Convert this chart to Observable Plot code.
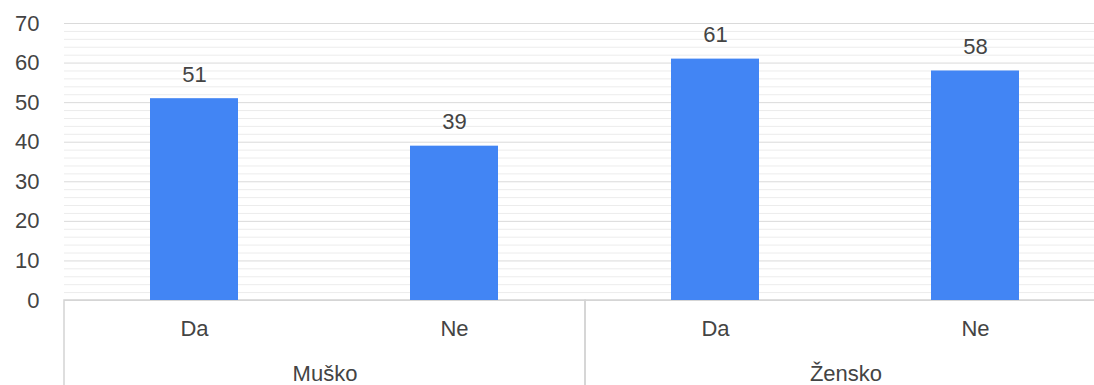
<!DOCTYPE html>
<html>
<head>
<meta charset="utf-8">
<script src="https://cdn.jsdelivr.net/npm/d3@7"></script>
<script src="https://cdn.jsdelivr.net/npm/@observablehq/plot@0.6"></script>
<style>
  html, body { margin: 0; padding: 0; background: #fff; overflow: hidden; }
  #chart { width: 1094px; height: 385px; overflow: hidden; }
  #chart svg { max-width: none !important; }
</style>
</head>
<body>
<div id="chart"></div>
<script>
// Data
const groups = ["Muško", "Muško", "Žensko", "Žensko"];
const answers = ["Da", "Ne", "Da", "Ne"];
const values = [51, 39, 61, 58];
const groupOrder = ["Muško", "Žensko"];
const answerOrder = ["Da", "Ne"];
const yTicks = [0, 10, 20, 30, 40, 50, 60, 70];
const yMinorTicks = [2, 4, 6, 8, 12, 14, 16, 18, 22, 24, 26, 28, 32, 34, 36, 38, 42, 44, 46, 48, 52, 54, 56, 58, 62, 64, 66, 68];

const data = values.map((v, i) => ({ group: groups[i], answer: answers[i], value: v }));
// lower axis box (baseline + group separators), in y units below zero
const axisBox = [{ y1: 0, y2: -25 }];

const fontFamily = "'Liberation Sans', Arial, sans-serif";
const textColor = "#444";

const chart = Plot.plot({
  width: 1106,
  height: 385,
  marginLeft: 63,
  marginRight: 0,
  marginTop: 23,
  marginBottom: 85,
  style: { fontFamily, fontSize: "22px", color: textColor, background: "#fff", maxWidth: "none" },
  fx: { domain: groupOrder, padding: 0, label: null },
  x: { domain: answerOrder, paddingInner: 0.66, paddingOuter: 0.33, label: null },
  y: { domain: [0, 70], label: null },
  marks: [
    Plot.ruleY(yMinorTicks, { stroke: "#ececec", strokeWidth: 1 }),
    Plot.ruleY(yTicks, { stroke: "#dadada", strokeWidth: 1 }),
    Plot.rect(axisBox, { y1: "y1", y2: "y2", fill: "none", stroke: "#d4d4d4", strokeWidth: 1.5 }),
    Plot.barY(data, { fx: "group", x: "answer", y: "value", fill: "#4285f4" }),
    Plot.text(data, { fx: "group", x: "answer", y: "value", text: d => String(d.value), dy: -24, fill: textColor, fontSize: 22 }),
    Plot.axisY({ ticks: yTicks, tickSize: 0, tickPadding: 25, label: null, fontSize: 22, fill: textColor }),
    Plot.axisX({ tickSize: 0, tickPadding: 20, label: null, fontSize: 22, fill: textColor }),
    Plot.axisFx({ anchor: "bottom", tickSize: 0, tickPadding: 65, label: null, fontSize: 22, fill: textColor })
  ]
});

document.getElementById("chart").appendChild(chart);
</script>
</body>
</html>
